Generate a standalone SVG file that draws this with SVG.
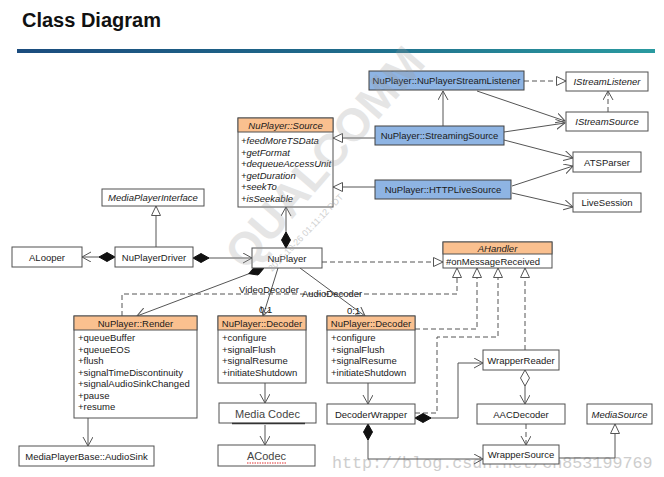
<svg xmlns="http://www.w3.org/2000/svg" width="664" height="477" viewBox="0 0 664 477">
<style>
  .bg{fill:#ffffff}
  .box{fill:#ffffff;stroke:#505050;stroke-width:1}
  .blue{fill:#8eb4e3;stroke:#404040;stroke-width:1}
  .hdr{fill:#fac08f;stroke:#505050;stroke-width:1}
  .t{font-family:"Liberation Sans",Arial,sans-serif;font-size:9.5px;fill:#1a1a1a}
  .c{text-anchor:middle}
  .i{font-style:italic}
  .big{font-size:11px;fill:#444}
  .l{stroke:#555;stroke-width:1;fill:none}
  .d{stroke-dasharray:5,3}
  .title{font-family:"Liberation Sans",Arial,sans-serif;font-size:20px;font-weight:bold;fill:#111}
  .wm{font-family:"Liberation Sans",Arial,sans-serif;font-weight:bold;fill:#9a9a9a;opacity:0.25}
</style>
<defs>
  <linearGradient id="bar" x1="0" y1="0" x2="1" y2="0">
    <stop offset="0" stop-color="#1b4c7e"/>
    <stop offset="0.5" stop-color="#1f6a8a"/>
    <stop offset="1" stop-color="#2a9aa0"/>
  </linearGradient>
  <marker id="open" markerUnits="userSpaceOnUse" markerWidth="12" markerHeight="12" refX="9" refY="5" orient="auto">
    <path d="M0,0 L9,5 L0,10" fill="none" stroke="#555" stroke-width="1"/>
  </marker>
  <marker id="tri" markerUnits="userSpaceOnUse" markerWidth="12" markerHeight="12" refX="10" refY="5" orient="auto">
    <path d="M0.5,0.5 L10,5 L0.5,9.5 Z" fill="#fff" stroke="#555" stroke-width="1"/>
  </marker>
  <marker id="dia" markerUnits="userSpaceOnUse" markerWidth="18" markerHeight="12" refX="0" refY="5" orient="auto">
    <path d="M0,5 L8,0.5 L16,5 L8,9.5 Z" fill="#111" stroke="#111" stroke-width="1"/>
  </marker>
  <marker id="hdia" markerUnits="userSpaceOnUse" markerWidth="18" markerHeight="12" refX="0" refY="5" orient="auto">
    <path d="M0,5 L8,0.5 L16,5 L8,9.5 Z" fill="#fff" stroke="#555" stroke-width="1"/>
  </marker>
</defs>
<rect class="bg" x="0" y="0" width="664" height="477"/>

<text class="title" x="22" y="27">Class Diagram</text>
<rect x="17" y="49" width="638" height="4" fill="url(#bar)"/>

<g id="url-watermark">
  <text x="332" y="468" font-family="Liberation Mono,Courier New,monospace" font-size="16.7" fill="#bdbdbd" opacity="0.75">http://blog.csdn.net/ch853199769</text>
</g>

<g id="connectors">
  <line class="l d" x1="524" y1="81" x2="566" y2="81" marker-end="url(#tri)"/>
  <line class="l d" x1="608" y1="112" x2="608" y2="91" marker-end="url(#open)"/>
  <line class="l" x1="477" y1="91" x2="565" y2="121" marker-end="url(#open)"/>
  <line class="l" x1="504" y1="132" x2="565" y2="123" marker-end="url(#open)"/>
  <line class="l" x1="443" y1="126" x2="443" y2="91" marker-end="url(#open)"/>
  <line class="l" x1="375" y1="138" x2="333" y2="138" marker-end="url(#tri)"/>
  <line class="l" x1="504" y1="140" x2="573" y2="158" marker-end="url(#open)"/>
  <line class="l" x1="375" y1="187" x2="333" y2="187" marker-end="url(#tri)"/>
  <line class="l" x1="512" y1="186" x2="573" y2="166" marker-end="url(#open)"/>
  <line class="l" x1="512" y1="193" x2="573" y2="207" marker-end="url(#open)"/>
  <line class="l" x1="286" y1="248" x2="286" y2="207" marker-start="url(#dia)" marker-end="url(#open)"/>
  <line class="l" x1="156" y1="247" x2="156" y2="206" marker-end="url(#tri)"/>
  <line class="l" x1="115" y1="257" x2="82" y2="257" marker-start="url(#dia)" marker-end="url(#open)"/>
  <line class="l" x1="193" y1="258" x2="252" y2="258" marker-start="url(#dia)" marker-end="url(#open)"/>
  <line class="l d" x1="322" y1="262" x2="443" y2="262" marker-end="url(#tri)"/>
  <line class="l" x1="264" y1="268" x2="137" y2="316" marker-start="url(#dia)" marker-end="url(#open)"/>
  <line class="l" x1="278" y1="268" x2="263" y2="316" marker-end="url(#open)"/>
  <line class="l" x1="300" y1="268" x2="365" y2="316" marker-end="url(#open)"/>
  <polyline class="l d" points="122,316 122,294 457,294 457,268" marker-end="url(#tri)"/>
  <polyline class="l d" points="415,329 477,329 477,268" marker-end="url(#tri)"/>
  <polyline class="l d" points="415,413 437,413 437,337 498,337 498,268" marker-end="url(#tri)"/>
  <line class="l d" x1="525" y1="350" x2="525" y2="268" marker-end="url(#tri)"/>
  <polyline class="l" points="415,418 458,418 458,363 483,363" marker-start="url(#dia)" marker-end="url(#open)"/>
  <line class="l" x1="525" y1="370" x2="525" y2="404" marker-start="url(#hdia)" marker-end="url(#open)"/>
  <line class="l d" x1="526" y1="424" x2="526" y2="445" marker-end="url(#open)"/>
  <polyline class="l" points="368,424 368,459 483,459" marker-start="url(#dia)" marker-end="url(#open)"/>
  <polyline class="l" points="559,458 615,458 615,424" marker-end="url(#tri)"/>
  <line class="l" x1="88" y1="418" x2="88" y2="446" marker-end="url(#open)"/>
  <line class="l" x1="265" y1="383" x2="265" y2="403" marker-end="url(#open)"/>
  <line class="l" x1="265" y1="425" x2="265" y2="445" marker-end="url(#open)"/>
  <line class="l" x1="368" y1="383" x2="368" y2="404" marker-end="url(#open)"/>
  <text class="t" x="239" y="293">VideoDecoder</text>
  <text class="t" x="302" y="297">AudioDecoder</text>
  <text class="t" x="259" y="313">0:1</text>
  <text class="t" x="347" y="314">0:1</text>
</g>

<g id="NuPlayerStreamListener"><rect class="blue" x="369" y="71" width="155" height="19"/><text class="t c" x="446.5" y="84">NuPlayer::NuPlayerStreamListener</text></g>
<g id="IStreamListener"><rect class="box" x="566" y="72" width="82" height="19"/><text class="t c i" x="607" y="85">IStreamListener</text></g>
<g id="IStreamSource"><rect class="box" x="566" y="112" width="82" height="19"/><text class="t c i" x="607" y="125">IStreamSource</text></g>
<g id="StreamingSource"><rect class="blue" x="375" y="126" width="129" height="19"/><text class="t c" x="439.5" y="139">NuPlayer::StreamingSource</text></g>
<g id="ATSParser"><rect class="box" x="573" y="152" width="68" height="20"/><text class="t c" x="607" y="165.5">ATSParser</text></g>
<g id="HTTPLiveSource"><rect class="blue" x="375" y="180" width="136" height="19"/><text class="t c" x="443" y="193">NuPlayer::HTTPLiveSource</text></g>
<g id="LiveSession"><rect class="box" x="573" y="193" width="68" height="19"/><text class="t c" x="607" y="206">LiveSession</text></g>

<g id="Source">
  <rect class="box" x="238" y="118" width="95" height="89"/>
  <rect class="hdr" x="238" y="118" width="95" height="14"/>
  <text class="t c i" x="285.5" y="128.5">NuPlayer::Source</text>
  <text class="t i" x="241" y="144">+feedMoreTSData</text>
  <text class="t i" x="241" y="155.5">+getFormat</text>
  <text class="t i" x="241" y="167">+dequeueAccessUnit</text>
  <text class="t i" x="241" y="178.5">+getDuration</text>
  <text class="t i" x="241" y="190">+seekTo</text>
  <text class="t i" x="241" y="201.5">+isSeekable</text>
</g>

<g id="MediaPlayerInterface"><rect class="box" x="102" y="189" width="102" height="17"/><text class="t c i" x="153" y="201">MediaPlayerInterface</text></g>
<g id="ALooper"><rect class="box" x="12" y="247" width="70" height="20"/><text class="t c" x="47" y="260.5">ALooper</text></g>
<g id="NuPlayerDriver"><rect class="box" x="115" y="247" width="78" height="20"/><text class="t c" x="154" y="260.5">NuPlayerDriver</text></g>
<g id="NuPlayer"><rect class="box" x="252" y="248" width="70" height="20"/><text class="t c" x="287" y="261.5">NuPlayer</text></g>

<g id="AHandler">
  <rect class="box" x="443" y="242" width="109" height="26"/>
  <rect class="hdr" x="443" y="242" width="109" height="12"/>
  <text class="t c i" x="497.5" y="251.5">AHandler</text>
  <text class="t" x="446" y="265">#onMessageReceived</text>
</g>

<g id="Render">
  <rect class="box" x="74" y="316" width="123" height="102"/>
  <rect class="hdr" x="74" y="316" width="123" height="14"/>
  <text class="t c" x="135.5" y="326.5">NuPlayer::Render</text>
  <text class="t" x="78" y="341">+queueBuffer</text>
  <text class="t" x="78" y="352.5">+queueEOS</text>
  <text class="t" x="78" y="364">+flush</text>
  <text class="t" x="78" y="375.5">+signalTimeDiscontinuity</text>
  <text class="t" x="78" y="387">+signalAudioSinkChanged</text>
  <text class="t" x="78" y="398.5">+pause</text>
  <text class="t" x="78" y="410">+resume</text>
</g>

<g id="VideoDecoderNode">
  <rect class="box" x="218" y="316" width="88" height="67"/>
  <rect class="hdr" x="218" y="316" width="88" height="14"/>
  <text class="t c" x="262" y="326.5">NuPlayer::Decoder</text>
  <text class="t" x="222" y="341">+configure</text>
  <text class="t" x="222" y="352.5">+signalFlush</text>
  <text class="t" x="222" y="364">+signalResume</text>
  <text class="t" x="222" y="375.5">+initiateShutdown</text>
</g>

<g id="AudioDecoderNode">
  <rect class="box" x="327" y="316" width="88" height="67"/>
  <rect class="hdr" x="327" y="316" width="88" height="14"/>
  <text class="t c" x="371" y="326.5">NuPlayer::Decoder</text>
  <text class="t" x="331" y="341">+configure</text>
  <text class="t" x="331" y="352.5">+signalFlush</text>
  <text class="t" x="331" y="364">+signalResume</text>
  <text class="t" x="331" y="375.5">+initiateShutdown</text>
</g>

<g id="MediaCodec"><rect class="box" x="219" y="403" width="97" height="20"/><line x1="232" y1="423.5" x2="305" y2="423.5" stroke="#333" stroke-width="1.5"/><text class="t c big" x="267.5" y="417.5">Media Codec</text></g>
<g id="ACodec"><rect class="box" x="218" y="445" width="97" height="21"/><text class="t c big" x="266.5" y="460">ACodec</text><line x1="247" y1="463" x2="286" y2="463" stroke="#e03030" stroke-width="1" stroke-dasharray="1.5,1"/></g>
<g id="AudioSink"><rect class="box" x="19" y="446" width="135" height="20"/><text class="t c" x="86.5" y="459.5">MediaPlayerBase::AudioSink</text></g>

<g id="DecoderWrapper"><rect class="box" x="327" y="404" width="88" height="20"/><text class="t c" x="371" y="417.5">DecoderWrapper</text></g>
<g id="WrapperReader"><rect class="box" x="483" y="350" width="76" height="20"/><text class="t c" x="521" y="363.5">WrapperReader</text></g>
<g id="AACDecoder"><rect class="box" x="477" y="404" width="88" height="20"/><text class="t c" x="521" y="417.5">AACDecoder</text></g>
<g id="MediaSource"><rect class="box" x="587" y="404" width="65" height="20"/><text class="t c i" x="619.5" y="417.5">MediaSource</text></g>
<g id="WrapperSource"><rect class="box" x="483" y="445" width="76" height="19"/><text class="t c" x="521" y="458">WrapperSource</text></g>

<g id="watermarks">
  <text class="wm" x="0" y="0" font-size="46" transform="translate(246,272) rotate(-49)">QUALCOMM</text>
  <text x="0" y="0" font-family="Liberation Sans,Arial,sans-serif" font-size="9" fill="#aaa" opacity="0.55" transform="translate(272,272) rotate(-46)">2016-10-26 01:11:12 PDT</text>
</g>
</svg>
